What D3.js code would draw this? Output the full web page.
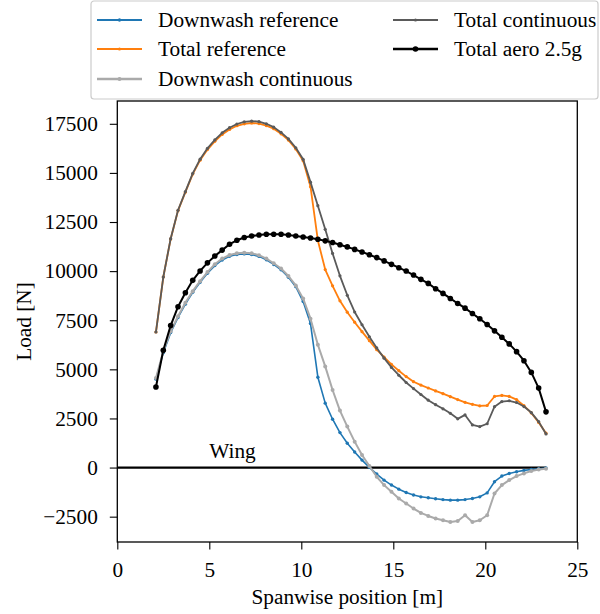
<!DOCTYPE html>
<html><head><meta charset="utf-8">
<script src="https://cdn.jsdelivr.net/npm/d3@7"></script>
<style>
body{margin:0;background:#fff}
svg{display:block}
</style>
</head><body><div id="chart"></div>
<script>
const spanwise = [2.1, 2.5, 2.9, 3.3, 3.7, 4.1, 4.5, 4.9, 5.3, 5.7, 6.1, 6.5, 6.9, 7.3, 7.7, 8.1, 8.5, 8.9, 9.3, 9.7, 10.1, 10.5, 10.9, 11.3, 11.7, 12.1, 12.5, 12.9, 13.3, 13.7, 14.1, 14.5, 14.9, 15.3, 15.7, 16.1, 16.5, 16.9, 17.3, 17.7, 18.1, 18.5, 18.9, 19.3, 19.7, 20.1, 20.5, 20.9, 21.3, 21.7, 22.1, 22.5, 22.9, 23.3];
const downwashReference = [4500, 5850, 6870, 7640, 8320, 8920, 9430, 9890, 10280, 10570, 10760, 10850, 10880, 10850, 10750, 10580, 10340, 10070, 9690, 9210, 8450, 7330, 4600, 3280, 2460, 1780, 1240, 790, 380, 10, -330, -640, -890, -1100, -1270, -1400, -1490, -1540, -1590, -1630, -1660, -1660, -1630, -1575, -1490, -1290, -720, -430, -300, -210, -145, -95, -60, -25];
const totalReference = [6900, 9700, 11640, 13080, 14020, 14940, 15650, 16190, 16610, 16960, 17210, 17400, 17500, 17540, 17510, 17410, 17250, 16990, 16670, 16220, 15620, 14300, 11560, 10080, 9250, 8490, 7910, 7400, 6920, 6460, 6000, 5620, 5250, 4930, 4630, 4370, 4200, 4050, 3900, 3760, 3610, 3460, 3320, 3220, 3145, 3160, 3620, 3670, 3620, 3460, 3150, 2780, 2300, 1750];
const downwashContinuous = [4560, 5920, 6940, 7705, 8390, 8980, 9490, 9950, 10350, 10640, 10820, 10910, 10940, 10910, 10810, 10640, 10400, 10130, 9750, 9270, 8600, 7580, 6250, 5150, 3950, 2900, 2085, 1320, 640, 77, -470, -894, -1236, -1575, -1830, -2085, -2310, -2463, -2596, -2682, -2769, -2718, -2427, -2769, -2682, -2427, -1320, -894, -639, -434, -298, -179, -94, -60];
const totalContinuous = [6900, 9700, 11650, 13100, 14050, 14980, 15700, 16250, 16680, 17040, 17300, 17490, 17600, 17640, 17610, 17500, 17330, 17060, 16730, 16280, 15690, 14530, 13330, 12130, 10900, 9760, 8770, 7920, 7270, 6660, 6090, 5570, 5100, 4700, 4330, 4020, 3720, 3430, 3200, 2990, 2760, 2480, 2680, 2171, 2085, 2230, 3100, 3360, 3400, 3311, 3106, 2800, 2340, 1712];
const totalAero = [4100, 5970, 7230, 8190, 8900, 9530, 10010, 10420, 10770, 11070, 11370, 11570, 11710, 11790, 11840, 11880, 11880, 11880, 11840, 11790, 11740, 11690, 11624, 11540, 11455, 11345, 11232, 11105, 10977, 10835, 10688, 10520, 10346, 10175, 10004, 9800, 9580, 9376, 9105, 8865, 8609, 8354, 8114, 7843, 7572, 7281, 6959, 6632, 6295, 5901, 5441, 4844, 4046, 2836];
const seriesNames = ["Downwash reference", "Total reference", "Downwash continuous", "Total continuous", "Total aero 2.5g"];
const xTicks = [0, 5, 10, 15, 20, 25];
const yTicks = [-2500, 0, 2500, 5000, 7500, 10000, 12500, 15000, 17500];
const wingLineX = [0, 23.3];
const wingLineY = [0, 0];
const wingLabel = "Wing";
const wingLabelPos = [5, 500];
const xLabel = "Spanwise position [m]";
const yLabel = "Load [N]";

const W = 600, H = 614;
const m = {left: 117.3, right: 22.7, top: 101, bottom: 72};
const FS = 21.3;
const FONT = "'Liberation Serif', 'Times New Roman', Times, Tinos, 'Nimbus Roman', 'DejaVu Serif', serif";

const series = [
  {name: seriesNames[0], values: downwashReference, color: "#1f77b4", lw: 1.6, r: 1.7},
  {name: seriesNames[1], values: totalReference, color: "#ff7f0e", lw: 1.8, r: 1.6},
  {name: seriesNames[2], values: downwashContinuous, color: "#aaaaaa", lw: 2.0, r: 2.0},
  {name: seriesNames[3], values: totalContinuous, color: "#5a5a5a", lw: 1.8, r: 1.6},
  {name: seriesNames[4], values: totalAero, color: "#000000", lw: 2.0, r: 2.8}
];

const allVals = series.flatMap(s => s.values);
const [vmin, vmax] = d3.extent(allVals);
const pad = (vmax - vmin) * 0.05;

const x = d3.scaleLinear().domain([0, 25]).range([m.left, W - m.right]);
const y = d3.scaleLinear().domain([vmin - pad, vmax + pad]).range([H - m.bottom, m.top]);

const svg = d3.select("#chart").append("svg").attr("width", W).attr("height", H)
  .style("font-family", FONT);

// wing line
svg.append("path")
  .attr("d", d3.line().x(d => x(d[0])).y(d => y(d[1]))(wingLineX.map((v, i) => [v, wingLineY[i]])))
  .attr("stroke", "#000").attr("stroke-width", 2.2).attr("fill", "none");
svg.append("text").attr("x", x(wingLabelPos[0])).attr("y", y(wingLabelPos[1]))
  .style("font-family", FONT).attr("font-size", FS).text(wingLabel);

const line = d3.line().x(d => x(d[0])).y(d => y(d[1]));
series.forEach(s => {
  const pts = spanwise.map((xv, i) => [xv, s.values[i]]);
  const g = svg.append("g");
  g.append("path").attr("d", line(pts)).attr("fill", "none")
    .attr("stroke", s.color).attr("stroke-width", s.lw).attr("stroke-linejoin", "round");
  g.selectAll("circle").data(pts).join("circle")
    .attr("cx", d => x(d[0])).attr("cy", d => y(d[1])).attr("r", s.r).attr("fill", s.color);
});

// axes
const xAxis = svg.append("g").attr("transform", `translate(0,${H - m.bottom})`)
  .call(d3.axisBottom(x).tickValues(xTicks).tickFormat(d3.format("d")).tickSize(7.5).tickSizeOuter(0).tickPadding(12));
const yAxis = svg.append("g").attr("transform", `translate(${m.left},0)`)
  .call(d3.axisLeft(y).tickValues(yTicks).tickFormat(d => d < 0 ? "\u2212" + Math.abs(d) : String(d)).tickSize(7.5).tickSizeOuter(0).tickPadding(12));
[xAxis, yAxis].forEach(a => {
  a.attr("font-family", null).style("font-family", FONT);
  a.selectAll("text").style("font-family", FONT).attr("font-size", FS).attr("fill", "#000");
  a.selectAll("line").attr("stroke", "#000").attr("stroke-width", 1.1);
  a.select(".domain").remove();
});
// frame
svg.append("rect").attr("x", m.left).attr("y", m.top)
  .attr("width", W - m.left - m.right).attr("height", H - m.top - m.bottom)
  .attr("fill", "none").attr("stroke", "#000").attr("stroke-width", 1.3);

svg.append("text").attr("x", (m.left + W - m.right) / 2).attr("y", 604)
  .attr("text-anchor", "middle").style("font-family", FONT).attr("font-size", FS).text(xLabel);
svg.append("text").attr("transform", `translate(31,${(m.top + H - m.bottom) / 2}) rotate(-90)`)
  .attr("text-anchor", "middle").style("font-family", FONT).attr("font-size", FS).text(yLabel);

// legend
const lg = svg.append("g");
lg.append("rect").attr("x", 91).attr("y", 1).attr("width", 507).attr("height", 98).attr("rx", 3)
  .attr("fill", "#fff").attr("fill-opacity", 0.85).attr("stroke", "#cccccc").attr("stroke-width", 1.2);
const cols = [97, 393], rows = [20, 49, 79];
series.forEach((s, i) => {
  const cx = cols[i < 3 ? 0 : 1], cy = rows[i < 3 ? i : i - 3];
  lg.append("line").attr("x1", cx).attr("x2", cx + 45).attr("y1", cy).attr("y2", cy)
    .attr("stroke", s.color).attr("stroke-width", s.lw + 0.3);
  lg.append("circle").attr("cx", cx + 22.5).attr("cy", cy).attr("r", s.r).attr("fill", s.color);
  lg.append("text").attr("x", cx + 61).attr("y", cy + 7).style("font-family", FONT).attr("font-size", FS).text(s.name);
});
</script>
</body></html>
